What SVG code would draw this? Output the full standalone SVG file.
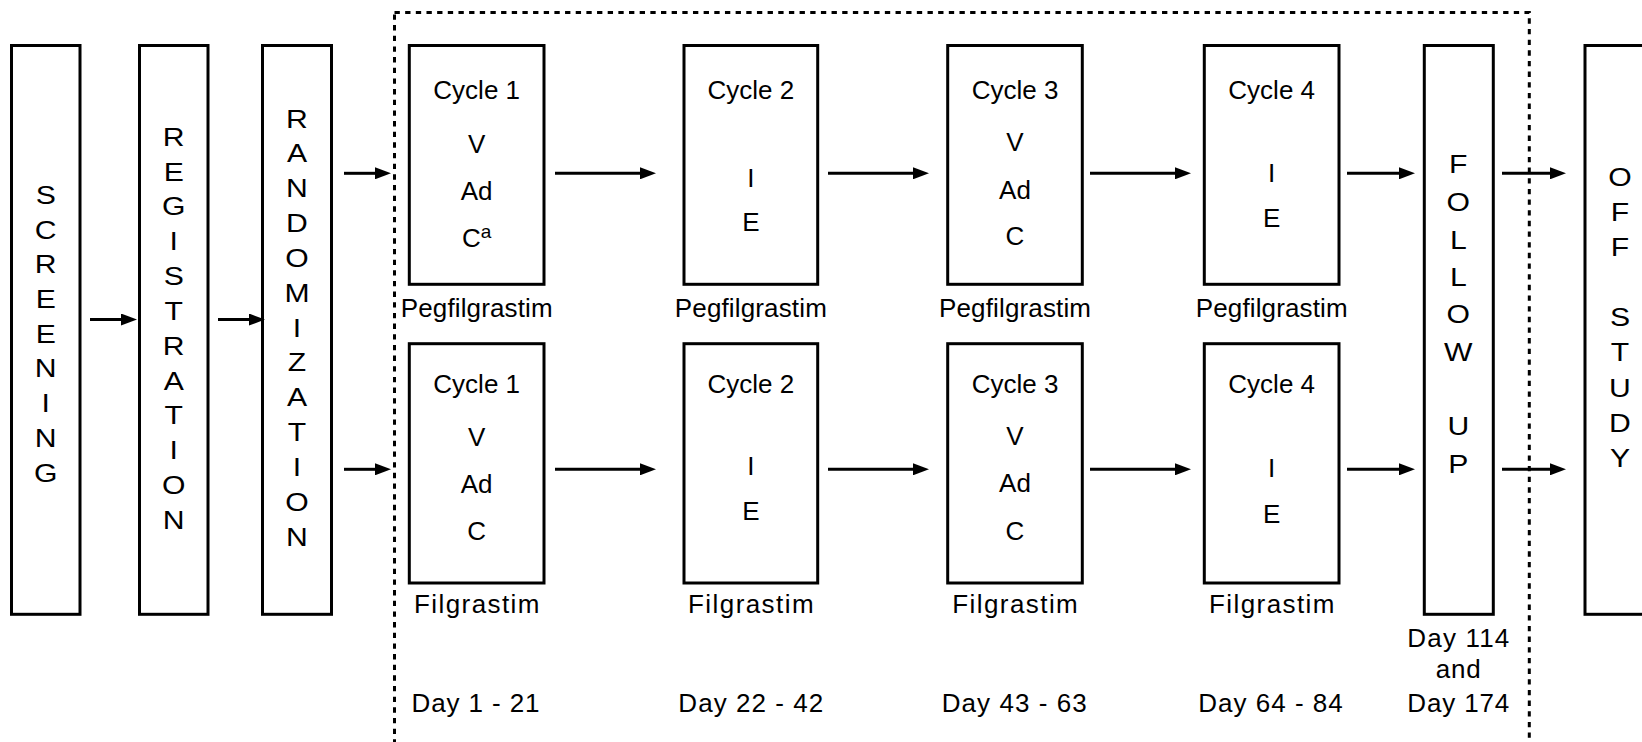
<svg xmlns="http://www.w3.org/2000/svg" width="1642" height="742" viewBox="0 0 1642 742">
<style>
text{font-family:"Liberation Sans",Arial,sans-serif;font-size:26px;fill:#000;text-anchor:middle}
.vt{font-size:26px}
.box{fill:#fff;stroke:#000;stroke-width:3}
.conn{stroke:#000;stroke-width:3;fill:none}
.dash{fill:none;stroke:#000;stroke-width:3;stroke-dasharray:5.33 5.33}
</style>
<defs>
<marker id="ah" viewBox="0 0 16 12" markerWidth="16" markerHeight="12" refX="1" refY="6" orient="auto" markerUnits="userSpaceOnUse">
<path d="M0,0 L16,6 L0,12 z" fill="#000"/>
</marker>
</defs>
<rect width="1642" height="742" fill="#fff"/>

<rect id="treatment-period" class="dash" x="394.5" y="12.5" width="1134.8" height="745"/>

<g id="screening">
<rect class="box" x="11.5" y="45.5" width="68.5" height="568.8"/>
<g transform="translate(45.75 0) scale(1.16 1)">
<text class="vt"><tspan x="0" y="204">S</tspan><tspan x="0" y="238.7">C</tspan><tspan x="0" y="273.4">R</tspan><tspan x="0" y="308.1">E</tspan><tspan x="0" y="342.8">E</tspan><tspan x="0" y="377.5">N</tspan><tspan x="0" y="412.2">I</tspan><tspan x="0" y="446.9">N</tspan><tspan x="0" y="481.6">G</tspan></text>
</g>
</g>

<g id="registration">
<rect class="box" x="139.5" y="45.5" width="68.5" height="568.8"/>
<g transform="translate(173.75 0) scale(1.16 1)">
<text class="vt"><tspan x="0" y="145.7">R</tspan><tspan x="0" y="180.55">E</tspan><tspan x="0" y="215.4">G</tspan><tspan x="0" y="250.25">I</tspan><tspan x="0" y="285.1">S</tspan><tspan x="0" y="319.95">T</tspan><tspan x="0" y="354.8">R</tspan><tspan x="0" y="389.65">A</tspan><tspan x="0" y="424.5">T</tspan><tspan x="0" y="459.35">I</tspan><tspan x="0" y="494.2">O</tspan><tspan x="0" y="529.05">N</tspan></text>
</g>
</g>

<g id="randomization">
<rect class="box" x="262.5" y="45.5" width="69" height="568.8"/>
<g transform="translate(297 0) scale(1.16 1)">
<text class="vt"><tspan x="0" y="127.7">R</tspan><tspan x="0" y="162.5">A</tspan><tspan x="0" y="197.4">N</tspan><tspan x="0" y="232.2">D</tspan><tspan x="0" y="267">O</tspan><tspan x="0" y="301.9">M</tspan><tspan x="0" y="336.7">I</tspan><tspan x="0" y="371.5">Z</tspan><tspan x="0" y="406.3">A</tspan><tspan x="0" y="441.2">T</tspan><tspan x="0" y="476">I</tspan><tspan x="0" y="510.8">O</tspan><tspan x="0" y="545.7">N</tspan></text>
</g>
</g>

<g id="peg-cycle1">
<rect class="box" x="409.3" y="45.5" width="134.7" height="238.8"/>
<text x="476.7" y="99.2">Cycle 1</text>
<text x="476.7" y="153">V</text>
<text x="476.7" y="200">Ad</text>
<text x="476.7" y="247.3">C<tspan font-size="19" dy="-9">a</tspan></text>
<text x="476.7" y="316.7" textLength="152" lengthAdjust="spacing">Pegfilgrastim</text>
</g>

<g id="peg-cycle2">
<rect class="box" x="684" y="45.5" width="133.7" height="238.8"/>
<text x="750.8" y="99.2">Cycle 2</text>
<text x="750.8" y="186.5">I</text>
<text x="750.8" y="230.7">E</text>
<text x="750.8" y="316.7" textLength="152" lengthAdjust="spacing">Pegfilgrastim</text>
</g>

<g id="peg-cycle3">
<rect class="box" x="947.7" y="45.5" width="134.6" height="238.8"/>
<text x="1015" y="99.2">Cycle 3</text>
<text x="1015" y="150.5">V</text>
<text x="1015" y="198.5">Ad</text>
<text x="1015" y="245.3">C</text>
<text x="1015" y="316.7" textLength="152" lengthAdjust="spacing">Pegfilgrastim</text>
</g>

<g id="peg-cycle4">
<rect class="box" x="1204.3" y="45.5" width="134.7" height="238.8"/>
<text x="1271.7" y="99.2">Cycle 4</text>
<text x="1271.7" y="181.7">I</text>
<text x="1271.7" y="226.7">E</text>
<text x="1271.7" y="316.7" textLength="152" lengthAdjust="spacing">Pegfilgrastim</text>
</g>

<g id="fil-cycle1">
<rect class="box" x="409.3" y="343.7" width="134.7" height="239.3"/>
<text x="476.7" y="392.5">Cycle 1</text>
<text x="476.7" y="445.7">V</text>
<text x="476.7" y="492.5">Ad</text>
<text x="476.7" y="539.7">C</text>
<text x="476.7" y="612.7" textLength="125.5" lengthAdjust="spacing">Filgrastim</text>
</g>

<g id="fil-cycle2">
<rect class="box" x="684" y="343.7" width="133.7" height="239.3"/>
<text x="750.8" y="392.5">Cycle 2</text>
<text x="750.8" y="475">I</text>
<text x="750.8" y="520">E</text>
<text x="750.8" y="612.7" textLength="125.5" lengthAdjust="spacing">Filgrastim</text>
</g>

<g id="fil-cycle3">
<rect class="box" x="947.7" y="343.7" width="134.6" height="239.3"/>
<text x="1015" y="392.5">Cycle 3</text>
<text x="1015" y="445.2">V</text>
<text x="1015" y="492.4">Ad</text>
<text x="1015" y="539.5">C</text>
<text x="1015" y="612.7" textLength="125.5" lengthAdjust="spacing">Filgrastim</text>
</g>

<g id="fil-cycle4">
<rect class="box" x="1204.3" y="343.7" width="134.7" height="239.3"/>
<text x="1271.7" y="392.5">Cycle 4</text>
<text x="1271.7" y="476.7">I</text>
<text x="1271.7" y="522.7">E</text>
<text x="1271.7" y="612.7" textLength="125.5" lengthAdjust="spacing">Filgrastim</text>
</g>

<g id="day-labels">
<text x="475.5" y="711.5" textLength="128" lengthAdjust="spacing">Day 1 - 21</text>
<text x="750.8" y="711.5" textLength="145" lengthAdjust="spacing">Day 22 - 42</text>
<text x="1014.2" y="711.5" textLength="145" lengthAdjust="spacing">Day 43 - 63</text>
<text x="1270.5" y="711.5" textLength="144.4" lengthAdjust="spacing">Day 64 - 84</text>
</g>

<g id="follow-up">
<rect class="box" x="1424.3" y="45.5" width="69" height="568.8"/>
<g transform="translate(1458.3 0) scale(1.16 1)">
<text class="vt"><tspan x="0" y="173.5">F</tspan><tspan x="0" y="211.3">O</tspan><tspan x="0" y="248.7">L</tspan><tspan x="0" y="286">L</tspan><tspan x="0" y="323.4">O</tspan><tspan x="0" y="360.7">W</tspan><tspan x="0" y="435.4">U</tspan><tspan x="0" y="472.7">P</tspan></text>
</g>
<text x="1458.3" y="646.7" textLength="102" lengthAdjust="spacing">Day 114</text>
<text x="1458.3" y="678.3" textLength="45" lengthAdjust="spacing">and</text>
<text x="1458.3" y="711.7" textLength="102" lengthAdjust="spacing">Day 174</text>
</g>

<g id="off-study">
<rect class="box" x="1585" y="45.5" width="70" height="568.8"/>
<g transform="translate(1620 0) scale(1.16 1)">
<text class="vt"><tspan x="0" y="186">O</tspan><tspan x="0" y="221.1">F</tspan><tspan x="0" y="256.2">F</tspan><tspan x="0" y="326.4">S</tspan><tspan x="0" y="361.5">T</tspan><tspan x="0" y="396.6">U</tspan><tspan x="0" y="431.7">D</tspan><tspan x="0" y="466.8">Y</tspan></text>
</g>
</g>

<g id="connectors" class="conn" marker-end="url(#ah)">
<line x1="90" y1="319.5" x2="122" y2="319.5"/>
<line x1="218" y1="319.5" x2="250" y2="319.5"/>
<line x1="344" y1="173.3" x2="376" y2="173.3"/>
<line x1="344" y1="469.3" x2="376" y2="469.3"/>
<line x1="555" y1="173.3" x2="641" y2="173.3"/>
<line x1="555" y1="469.3" x2="641" y2="469.3"/>
<line x1="828" y1="173.3" x2="914" y2="173.3"/>
<line x1="828" y1="469.3" x2="914" y2="469.3"/>
<line x1="1090" y1="173.3" x2="1176" y2="173.3"/>
<line x1="1090" y1="469.3" x2="1176" y2="469.3"/>
<line x1="1347" y1="173.3" x2="1400" y2="173.3"/>
<line x1="1347" y1="469.3" x2="1400" y2="469.3"/>
<line x1="1502" y1="173.3" x2="1551" y2="173.3"/>
<line x1="1502" y1="469.3" x2="1551" y2="469.3"/>
</g>
</svg>
